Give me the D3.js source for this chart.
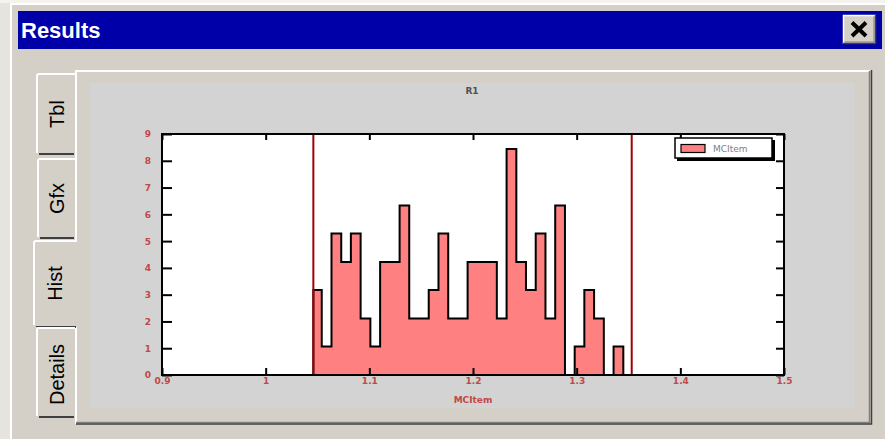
<!DOCTYPE html>
<html><head><meta charset="utf-8">
<script src="https://cdn.jsdelivr.net/npm/d3@7"></script>
<style>
html,body{margin:0;padding:0;background:#e6e4de;overflow:hidden}
svg{display:block}
</style></head>
<body>
<svg id="c" width="885" height="439"></svg>
<script>
// ---- data ----
const chartTitle = "R1";
const seriesName = "MCItem";
const xTicks = [0.9, 1, 1.1, 1.2, 1.3, 1.4, 1.5];
const xTickLabels = ["0.9", "1", "1.1", "1.2", "1.3", "1.4", "1.5"];
const yTicks = [0, 1, 2, 3, 4, 5, 6, 7, 8, 9];
const yTickLabels = ["0", "1", "2", "3", "4", "5", "6", "7", "8", "9"];
const binEdges = [1.0460, 1.0541, 1.0635, 1.0729, 1.0822, 1.0916, 1.1010, 1.1104, 1.1198,
  1.1292, 1.1385, 1.1479, 1.1573, 1.1667, 1.1761, 1.1855, 1.1948, 1.2042, 1.2136, 1.2230,
  1.2324, 1.2418, 1.2511, 1.2605, 1.2699, 1.2793, 1.2887, 1.2981, 1.3074, 1.3168, 1.3262,
  1.3356, 1.3450];
const density = [3.17, 1.06, 5.28, 4.22, 5.28, 2.11, 1.06, 4.22, 4.22, 6.33, 2.11, 2.11,
  3.17, 5.28, 2.11, 2.11, 4.22, 4.22, 4.22, 2.11, 8.44, 4.22, 3.17, 5.28, 2.11, 6.33,
  0, 1.06, 3.17, 2.11, 0, 1.06];
const markerLines = [1.0460, 1.3531];
const tabs = ["Tbl", "Gfx", "Hist", "Details"];

// ---- frame ----
const svg = d3.select("#c");
const face = "#d4d0c8";

svg.append("rect").attr("x", 0).attr("y", 0).attr("width", 885).attr("height", 439).attr("fill", "#e6e4de");
svg.append("rect").attr("x", 0).attr("y", 0).attr("width", 885).attr("height", 3).attr("fill", "#f4f3ef");
svg.append("rect").attr("x", 10).attr("y", 3).attr("width", 875).attr("height", 436).attr("fill", face);
svg.append("line").attr("x1", 11).attr("y1", 4).attr("x2", 11).attr("y2", 439).attr("stroke", "#ffffff").attr("stroke-width", 2);
svg.append("line").attr("x1", 10).attr("y1", 4).attr("x2", 885).attr("y2", 4).attr("stroke", "#ffffff").attr("stroke-width", 2);

// title bar
svg.append("rect").attr("x", 18).attr("y", 11).attr("width", 864).attr("height", 38).attr("fill", "#0000a8");
svg.append("text").attr("x", 21).attr("y", 38).attr("fill", "#ffffff")
  .attr("font-family", "Liberation Sans, Arial, sans-serif").attr("font-weight", "bold").attr("font-size", 22)
  .text("Results");
// close button
const cb = svg.append("g");
cb.append("rect").attr("x", 843).attr("y", 15).attr("width", 33).attr("height", 29).attr("fill", face);
cb.append("path").attr("d", "M843.5,44 V15.5 H876").attr("fill", "none").attr("stroke", "#ffffff").attr("stroke-width", 1.5);
cb.append("path").attr("d", "M843,43.5 H875.5 V15").attr("fill", "none").attr("stroke", "#404040").attr("stroke-width", 1.5);
cb.append("path").attr("d", "M844.5,42 H874 V16.5").attr("fill", "none").attr("stroke", "#808080").attr("stroke-width", 1);
cb.append("path").attr("d", "M852,22.5 L866,36 M866,22.5 L852,36").attr("stroke", "#000").attr("stroke-width", 4);

// tab panel
svg.append("rect").attr("x", 75).attr("y", 70).attr("width", 797).attr("height", 354).attr("fill", face);
svg.append("path").attr("d", "M76,424 V71 H870").attr("fill", "none").attr("stroke", "#ffffff").attr("stroke-width", 2);
svg.append("path").attr("d", "M76,422.5 H869.5 V71").attr("fill", "none").attr("stroke", "#808080").attr("stroke-width", 1.5);
svg.append("path").attr("d", "M76,424 H871.5 V70").attr("fill", "none").attr("stroke", "#404040").attr("stroke-width", 1.5);

// tabs
const tabBoxes = [
  {x: 36, y: 73, w: 39, h: 82},
  {x: 37, y: 158, w: 38, h: 81},
  {x: 33, y: 240, w: 44, h: 87},
  {x: 36, y: 327, w: 39, h: 91}
];
tabs.forEach((t, i) => {
  const b = tabBoxes[i];
  const g = svg.append("g");
  g.append("rect").attr("x", b.x).attr("y", b.y).attr("width", b.w).attr("height", b.h).attr("fill", face);
  g.append("path").attr("d", `M${b.x + 1},${b.y + b.h - 2} V${b.y + 3} Q${b.x + 1},${b.y + 1} ${b.x + 3},${b.y + 1} H${b.x + b.w}`)
    .attr("fill", "none").attr("stroke", "#ffffff").attr("stroke-width", 2);
  if (i !== 2) {
    g.append("path").attr("d", `M${b.x + 3},${b.y + b.h - 1} H${b.x + b.w - 1}`).attr("stroke", "#404040").attr("stroke-width", 2);
  } else {
    g.append("path").attr("d", `M${b.x + 3},${b.y + b.h} H${b.x + b.w - 1}`).attr("stroke", "#404040").attr("stroke-width", 2);
  }
  const cx = b.x + b.w / 2 + (i === 2 ? 0 : 1);
  const cy = b.y + b.h / 2 + (i === 3 ? 2 : 0);
  g.append("text").attr("transform", `translate(${cx + 7},${cy}) rotate(-90)`)
    .attr("text-anchor", "middle").attr("fill", "#000")
    .attr("font-family", "Liberation Sans, Arial, sans-serif").attr("font-size", 20)
    .text(t);
});

// chart background
svg.append("rect").attr("x", 90).attr("y", 83).attr("width", 765).attr("height", 325).attr("fill", "#d3d3d3");

// ---- chart ----
const L = 162, R = 784, T = 134, B = 375;
const x = d3.scaleLinear().domain([0.9, 1.5]).range([L, R]);
const y = d3.scaleLinear().domain([0, 9]).range([B, T]);

svg.append("rect").attr("x", L).attr("y", T).attr("width", R - L).attr("height", B - T).attr("fill", "#ffffff");

const pts = [[binEdges[0], 0]];
density.forEach((v, i) => pts.push([binEdges[i], v]));
pts.push([binEdges[binEdges.length - 1], 0]);

const area = d3.area().x(d => x(d[0])).y0(y(0)).y1(d => y(d[1])).curve(d3.curveStepAfter);
const line = d3.line().x(d => x(d[0])).y(d => y(d[1])).curve(d3.curveStepAfter);
svg.append("path").datum(pts).attr("d", area).attr("fill", "#ff8080");
svg.append("path").datum(pts).attr("d", line).attr("fill", "none").attr("stroke", "#000").attr("stroke-width", 2);

svg.selectAll(".mk").data(markerLines).enter().append("line")
  .attr("x1", d => x(d)).attr("x2", d => x(d)).attr("y1", T).attr("y2", B)
  .attr("stroke", "#a00000").attr("stroke-width", 2);

const tickColor = "#c04848";
const fontF = "DejaVu Sans, sans-serif";

const gL = svg.append("g").attr("transform", `translate(${L},0)`)
  .call(d3.axisLeft(y).tickValues(yTicks).tickFormat((d, i) => yTickLabels[i]).tickSizeInner(-10).tickSizeOuter(0).tickPadding(11));
const gB = svg.append("g").attr("transform", `translate(0,${B})`)
  .call(d3.axisBottom(x).tickValues(xTicks).tickFormat((d, i) => xTickLabels[i]).tickSizeInner(-7).tickSizeOuter(0).tickPadding(3));
const gT = svg.append("g").attr("transform", `translate(0,${T})`)
  .call(d3.axisTop(x).tickValues(xTicks).tickFormat("").tickSizeInner(-6).tickSizeOuter(0));
const gR = svg.append("g").attr("transform", `translate(${R},0)`)
  .call(d3.axisRight(y).tickValues(yTicks).tickFormat("").tickSizeInner(-8).tickSizeOuter(0));
[gL, gB, gT, gR].forEach(g => {
  g.select(".domain").remove();
  g.selectAll(".tick line").attr("stroke", "#000").attr("stroke-width", 2);
  g.selectAll(".tick text").attr("fill", tickColor).attr("font-family", fontF).attr("font-size", 9).attr("font-weight", "bold");
});

svg.append("rect").attr("x", L).attr("y", T).attr("width", R - L).attr("height", B - T)
  .attr("fill", "none").attr("stroke", "#000").attr("stroke-width", 2);

svg.append("text").attr("x", (L + R) / 2 - 1).attr("y", 94).attr("text-anchor", "middle")
  .attr("fill", "#505050").attr("font-family", fontF).attr("font-size", 9).attr("font-weight", "bold").text(chartTitle);
svg.append("text").attr("x", (L + R) / 2).attr("y", 403).attr("text-anchor", "middle")
  .attr("fill", tickColor).attr("font-family", fontF).attr("font-size", 9).attr("font-weight", "bold").text(seriesName);

// legend
const lg = svg.append("g");
lg.append("rect").attr("x", 677).attr("y", 140).attr("width", 98).attr("height", 21).attr("fill", "#000");
lg.append("rect").attr("x", 675).attr("y", 138).attr("width", 97).attr("height", 20).attr("fill", "#fff").attr("stroke", "#000").attr("stroke-width", 1.5);
lg.append("rect").attr("x", 681).attr("y", 144.5).attr("width", 24).attr("height", 8).attr("fill", "#ff8080").attr("stroke", "#000").attr("stroke-width", 1.2);
lg.append("text").attr("x", 713).attr("y", 152).attr("fill", "#808080").attr("font-family", fontF)
  .attr("font-size", 9).text(seriesName);
</script>
</body></html>
